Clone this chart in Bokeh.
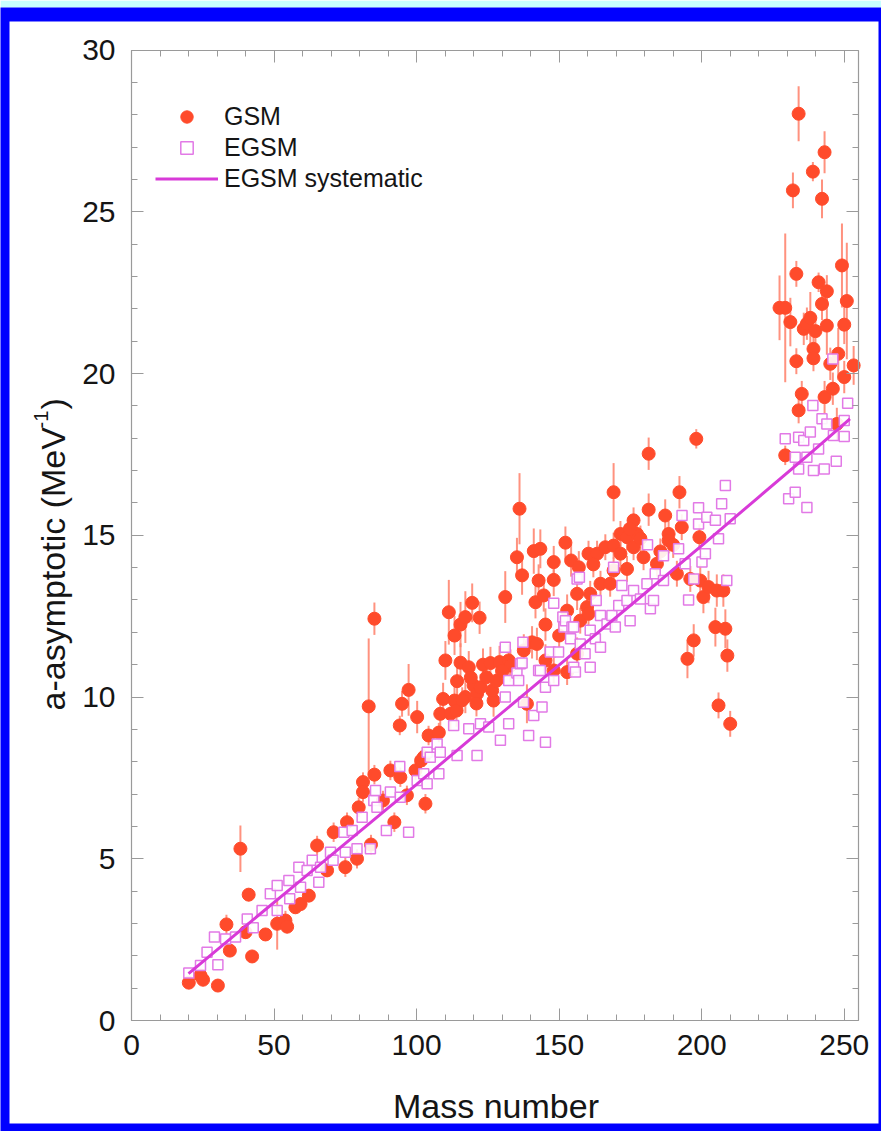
from bokeh.plotting import figure
from bokeh.models import (ColumnDataSource, Range1d, LinearAxis, SingleIntervalTicker,
                          CustomJSTickFormatter, Legend, LegendItem, Label, BoxAnnotation)
from bokeh.embed import file_html
from bokeh.resources import INLINE
import math

# ---------------- data ----------------
gsm_A = [20.1, 24.2, 25.1, 30.3, 33.3, 34.5, 38.2, 40.0, 41.1, 42.3, 47.0, 51.1, 54.0, 54.6, 57.5,
         59.3, 62.2, 65.1, 68.6, 70.9, 75.0, 75.6, 79.1, 79.7, 81.2, 81.2, 83.2, 84.0, 85.2, 85.2,
         88.2, 90.8, 92.2, 94.1, 94.3, 94.9, 96.6, 97.2, 99.6, 100.2, 101.6, 102.5, 103.1, 104.2,
         107.8, 108.3, 109.3, 110.1, 111.3, 111.9, 113.3, 113.3, 114.0, 114.2, 115.4, 115.4, 117.1,
         117.1, 118.3, 119.5, 120.0, 121.2, 122.1, 122.4, 123.3, 124.5, 125.9, 127.0, 129.1, 131.1,
         132.3, 132.9, 135.2, 136.1, 137.0, 137.6, 138.7, 140.5, 141.1, 141.7, 142.2, 142.8, 143.4,
         144.6, 145.2, 145.2, 148.1, 148.1, 148.1, 152.2, 152.8, 152.8, 154.2, 156.3, 156.3, 156.9,
         157.4, 159.8, 160.3, 160.3, 160.9, 163.3, 164.5, 166.2, 167.9, 169.1, 169.1, 169.1, 171.5,
         171.5, 173.8, 173.8, 176.1, 176.1, 177.3, 179.6, 181.4, 181.4, 184.3, 187.2, 188.4, 188.4,
         191.3, 192.2, 193.0, 196.0, 197.2, 195.0, 198.1, 199.2, 199.5, 200.6, 202.4, 205.3, 207.6,
         204.8, 208.3, 209.0, 205.9, 210.0,
         116.0, 119.0, 121.0, 126.5, 128.0, 130.0, 150.0, 162.0, 174.8, 178.5, 185.5, 190.0,
         227.3, 229.3, 229.3, 231.1, 232.0, 233.2, 233.2, 234.0, 234.0, 235.1, 235.8, 236.9, 238.1,
         239.0, 239.2, 239.2, 239.9, 241.0, 242.2, 242.2, 243.1, 243.1, 243.9, 243.9, 245.1, 246.0,
         247.4, 247.9, 249.2, 250.0, 250.0, 250.9, 253.3]
gsm_a = [1.17, 1.39, 1.26, 1.08, 2.97, 2.16, 5.31, 2.73, 3.89, 1.98, 2.66, 2.99, 3.09, 2.90, 3.50,
         3.60, 3.86, 5.41, 4.64, 5.82, 4.74, 6.13, 5.00, 6.59, 7.37, 7.06, 9.71, 5.44, 7.60, 12.42,
         6.80, 7.73, 6.13, 9.12, 7.52, 9.79, 6.96, 10.22, 7.73, 9.38, 8.04, 8.14, 6.70, 8.81,
         8.90, 9.48, 9.94, 11.13, 12.62, 9.48, 11.90, 9.89, 9.58, 10.49, 12.24, 11.06, 12.47,
         10.00, 10.92, 12.91, 10.36, 10.10, 12.45, 10.30, 11.00, 10.61, 11.05, 9.89, 11.08, 13.09,
         11.13, 10.97, 14.32, 15.82, 13.76, 11.44, 9.79, 11.69, 14.51, 12.93, 11.64, 13.60, 14.58,
         13.14, 12.24, 11.13, 14.17, 13.62, 10.82, 14.77, 12.67, 10.77, 14.22, 13.19, 11.34, 14.01,
         12.36, 12.78, 14.43, 12.57, 13.19, 14.43, 13.50, 14.63, 13.50, 16.33, 14.68, 13.91, 15.04,
         14.43, 14.94, 13.96, 15.46, 14.63, 15.04, 14.32, 17.52, 15.79, 14.12, 15.61, 15.04, 14.84,
         13.81, 16.33, 15.25, 13.65, 11.75, 11.18, 17.98, 14.94, 13.60, 13.09, 13.40, 13.29, 13.29,
         12.16, 12.11, 11.28, 9.74, 9.17,
         9.90, 10.60, 9.80, 10.20, 10.50, 10.80, 11.90, 14.10, 15.20, 14.90, 14.50, 14.70,
         22.03, 22.03, 17.47, 21.59, 25.66, 23.08, 20.38, 28.03, 18.86, 19.37, 21.38, 21.54, 21.72,
         26.24, 20.76, 20.47, 21.31, 22.82, 25.40, 22.15, 26.84, 19.27, 22.54, 21.48, 20.30, 19.53,
         18.44, 20.61, 23.34, 21.51, 19.89, 22.24, 20.25]
gsm_err = [0.15, 0.15, 0.15, 0.15, 0.3, 0.2, 0.72, 0.2, 0.2, 0.15, 0.2, 0.8, 0.3, 0.2, 0.2,
           0.2, 0.2, 0.3, 0.2, 0.3, 0.3, 0.3, 0.3, 0.3, 0.3, 0.3, 2.1, 0.3, 0.3, 0.5,
           0.3, 0.3, 0.3, 0.3, 0.3, 0.4, 0.3, 0.8, 0.3, 0.5, 0.3, 0.3, 0.3, 0.3,
           0.3, 0.5, 0.5, 0.6, 1.0, 0.5, 0.6, 0.5, 0.5, 0.6, 0.7, 0.6, 0.8,
           0.5, 0.5, 0.6, 0.4, 0.4, 0.5, 0.4, 0.5, 0.4, 0.5, 0.5, 0.5, 0.8,
           0.5, 0.5, 0.6, 1.1, 0.6, 0.5, 0.6, 0.5, 0.7, 0.5, 0.5, 0.5, 0.6,
           0.5, 0.5, 0.5, 0.5, 0.5, 0.4, 0.5, 0.5, 0.4, 0.5, 0.5, 0.5, 0.5,
           0.4, 0.4, 0.4, 0.4, 0.4, 0.4, 0.4, 0.4, 0.4, 0.9, 0.4, 0.4, 0.4,
           0.4, 0.4, 0.4, 0.4, 0.4, 0.4, 0.4, 0.5, 0.5, 0.4, 0.5, 0.4, 0.4,
           0.4, 0.5, 0.4, 0.4, 0.5, 0.6, 0.3, 0.4, 0.5, 0.5, 0.5, 0.5, 0.5,
           0.6, 0.6, 0.5, 0.4, 0.4,
           0.4, 0.4, 0.4, 0.4, 0.4, 0.4, 0.4, 0.4, 0.4, 0.4, 0.4, 0.4,
           1.0, 2.3, 0.3, 0.75, 0.55, 0.4, 0.4, 0.85, 0.4, 0.4, 0.5, 0.5, 0.8,
           0.3, 0.4, 0.4, 0.4, 0.3, 0.6, 0.5, 0.65, 0.5, 0.5, 0.9, 0.5, 0.5,
           0.5, 0.8, 1.3, 0.6, 0.5, 1.8, 0.6]

egsm_A = [20.1, 24.2, 26.5, 29.1, 30.3, 33.0, 36.5, 40.6, 42.7, 45.8, 48.7, 51.1, 51.1, 55.2, 55.5,
          58.7, 59.3, 61.6, 63.4, 65.7, 66.3, 69.8, 70.7, 74.5, 75.0, 77.4, 79.1, 80.9, 83.8, 85.0,
          85.6, 86.1, 89.4, 90.8, 94.1, 94.3, 97.2, 100.2, 102.5, 103.7, 103.7, 104.8, 107.2, 107.8,
          108.3, 113.0, 114.2, 118.3, 121.2, 122.4, 125.3, 129.4, 131.1, 131.1, 132.3, 132.3, 135.2,
          135.8, 136.4, 137.0, 137.3, 137.5, 139.3, 141.1, 142.8, 143.4, 144.0, 145.2, 145.2, 146.9,
          148.1, 148.1, 149.8, 151.3, 151.7, 152.2, 154.0, 154.5, 155.1, 155.1, 155.7, 156.3, 157.1,
          157.4, 159.1, 160.9, 160.9, 162.7, 163.0, 164.5, 164.5, 166.8, 168.5, 169.1, 169.7, 170.9,
          172.0, 173.8, 174.9, 176.1, 178.5, 180.8, 181.0, 182.0, 183.1, 183.7, 186.6, 186.6, 191.9,
          193.1, 194.2, 195.4, 197.2, 198.9, 198.9, 200.1, 201.3, 201.8, 204.8, 205.9, 207.0, 208.3,
          208.8, 210.0,
          229.3, 230.5, 232.8, 232.8, 234.0, 234.0, 235.8, 236.9, 236.9, 238.1, 239.0, 239.2, 241.0,
          242.2, 243.0, 243.9, 246.0, 246.2, 247.2, 250.0, 250.0, 251.2]
egsm_a = [1.47, 1.70, 2.11, 2.58, 1.72, 2.52, 2.58, 3.14, 2.87, 3.40, 3.92, 4.17, 3.40, 4.33, 3.76,
          4.74, 4.12, 4.64, 4.95, 4.27, 4.74, 5.20, 4.95, 5.82, 5.20, 5.87, 5.31, 6.28, 5.31, 6.80,
          7.11, 6.59, 5.87, 7.06, 7.85, 6.90, 5.82, 7.42, 7.63, 8.29, 7.32, 8.14, 8.55, 7.63,
          8.29, 9.12, 8.19, 9.02, 8.19, 9.17, 9.07, 8.66, 11.54, 10.00, 9.17, 10.51, 10.74,
          10.51, 11.03, 11.05, 11.69, 9.84, 8.81, 9.43, 10.82, 10.82, 9.69, 8.60, 10.30, 11.39,
          10.51, 12.90, 11.39, 12.47, 12.16, 12.36, 11.80, 12.16, 12.16, 10.92, 10.77, 13.65, 13.70,
          11.64, 11.34, 12.06, 10.92, 11.80, 12.98, 12.52, 11.54, 12.26, 12.52, 14.01, 12.16, 12.83,
          13.45, 12.98, 12.36, 13.29, 13.03, 13.50, 14.71, 12.73, 12.98, 13.81, 14.37, 13.60, 14.58,
          15.61, 14.12, 13.00, 13.65, 15.85, 15.35, 14.17, 14.43, 15.56, 15.46, 14.89, 15.97, 16.54,
          13.60, 15.51,
          17.98, 16.13, 17.41, 16.33, 18.03, 17.05, 17.93, 17.41, 15.86, 18.19, 19.01, 17.00, 17.67,
          18.60, 17.05, 18.44, 20.45, 18.08, 17.29, 18.55, 18.05, 19.08]

sys_A = [20, 40, 60, 80, 100, 120, 140, 160, 180, 200, 220, 240, 252]
sys_a = [1.45, 2.92, 4.38, 5.84, 7.30, 8.78, 10.25, 11.73, 13.20, 14.68, 16.18, 17.68, 18.60]

x_ticks_major = 50
y_ticks_major = 5

# ---------------- layout geometry (page pixels) ----------------
W, H = 881, 1131
BAND = 7                       # light band at the top of the page
AX_L, AX_R = 131.0, 858.0      # pixel x of A=0 and A=255
AX_B, AX_T = 1020.0, 49.5      # pixel y of a=0 and a=30
XMAX, YMAX = 255.0, 30.0
ppx = (AX_R - AX_L) / XMAX
ppy = (AX_B - AX_T) / YMAX

def dx(px):
    return (px - AX_L) / ppx

def dy(py):
    return (AX_B - py) / ppy

FONT = "Liberation Sans"
TXT = "#151515"

p = figure(width=W, height=H, output_backend="svg", toolbar_location=None, title=None,
           x_range=Range1d(dx(0), dx(W)), y_range=Range1d(dy(H), dy(BAND)),
           min_border_left=0, min_border_right=0, min_border_top=BAND, min_border_bottom=0,
           border_fill_color="#c8ffff", background_fill_color="#0000ff")
p.grid.visible = False
p.outline_line_color = None

# white page area inside the blue frame
p.add_layout(BoxAnnotation(left=dx(9), right=dx(878), top=dy(21), bottom=dy(1123),
                           fill_color="white", fill_alpha=1.0, line_color=None,
                           level="underlay"))

def style_axis(ax, labels=True, standoff=14):
    ax.axis_line_color = "#9a9a9a"
    ax.axis_line_width = 1.2
    ax.major_tick_line_color = "#9a9a9a"
    ax.minor_tick_line_color = "#9a9a9a"
    ax.major_tick_in = 12
    ax.major_tick_out = 0
    ax.minor_tick_in = 6
    ax.minor_tick_out = 0
    ax.major_label_text_font = FONT
    ax.major_label_text_font_size = "30px"
    ax.major_label_text_color = TXT
    ax.major_label_standoff = standoff
    if not labels:
        ax.formatter = CustomJSTickFormatter(code="return ''")

xb = p.xaxis[0]
xb.ticker = SingleIntervalTicker(interval=x_ticks_major, num_minor_ticks=5)
xb.fixed_location = 0
xb.bounds = (0, XMAX)
style_axis(xb, True, 14)

yl = p.yaxis[0]
yl.ticker = SingleIntervalTicker(interval=y_ticks_major, num_minor_ticks=5)
yl.fixed_location = 0
yl.bounds = (0, YMAX)
style_axis(yl, True, 16)

xt = LinearAxis(ticker=SingleIntervalTicker(interval=x_ticks_major, num_minor_ticks=5),
                fixed_location=YMAX, bounds=(0, XMAX))
style_axis(xt, False)
p.add_layout(xt, "above")

yr = LinearAxis(ticker=SingleIntervalTicker(interval=y_ticks_major, num_minor_ticks=5),
                fixed_location=XMAX, bounds=(0, YMAX))
style_axis(yr, False)
p.add_layout(yr, "right")

# ---------------- glyphs ----------------
gsrc = ColumnDataSource(dict(A=gsm_A, a=gsm_a,
                             lo=[v - e for v, e in zip(gsm_a, gsm_err)],
                             hi=[v + e for v, e in zip(gsm_a, gsm_err)]))
esrc = ColumnDataSource(dict(A=egsm_A, a=egsm_a))
ssrc = ColumnDataSource(dict(A=sys_A, a=sys_a))

RED = "#ff4b2b"
p.segment(x0="A", y0="lo", x1="A", y1="hi", source=gsrc, line_color="#ff7f68",
          line_width=2, line_alpha=0.85)
r_gsm = p.scatter("A", "a", source=gsrc, marker="circle", size=13,
                  fill_color=RED, line_color=RED)
r_egsm = p.scatter("A", "a", source=esrc, marker="square", size=10,
                   fill_color="white", fill_alpha=0.9, line_color="#e27ae6", line_width=1.5)
r_sys = p.line("A", "a", source=ssrc, line_color="#d83ad8", line_width=3)

legend = Legend(items=[LegendItem(label="GSM", renderers=[r_gsm]),
                       LegendItem(label="EGSM", renderers=[r_egsm]),
                       LegendItem(label="EGSM systematic", renderers=[r_sys])],
                location=(155, H - 193.5), orientation="vertical",
                padding=0, margin=0, spacing=0, glyph_width=63, glyph_height=31,
                label_height=31, label_standoff=6,
                label_text_font=FONT, label_text_font_size="25px", label_text_color=TXT,
                border_line_color=None, background_fill_alpha=0)
p.add_layout(legend)

# ---------------- axis titles ----------------
p.add_layout(Label(x=dx(495.5), y=dy(1105), text="Mass number", text_align="center",
                   text_baseline="middle", text_font=FONT, text_font_size="34px",
                   text_color=TXT))
p.add_layout(Label(x=dx(52), y=dy(710), text="a-asymptotic (MeV", angle=math.pi / 2,
                   text_align="left", text_baseline="middle", text_font=FONT,
                   text_font_size="34px", text_color=TXT))
p.add_layout(Label(x=dx(40), y=dy(428), text="-1", angle=math.pi / 2,
                   text_align="left", text_baseline="middle", text_font=FONT,
                   text_font_size="20px", text_color=TXT))
p.add_layout(Label(x=dx(52), y=dy(409), text=")", angle=math.pi / 2,
                   text_align="left", text_baseline="middle", text_font=FONT,
                   text_font_size="34px", text_color=TXT))

open("out.html", "w").write(file_html(p, INLINE))
